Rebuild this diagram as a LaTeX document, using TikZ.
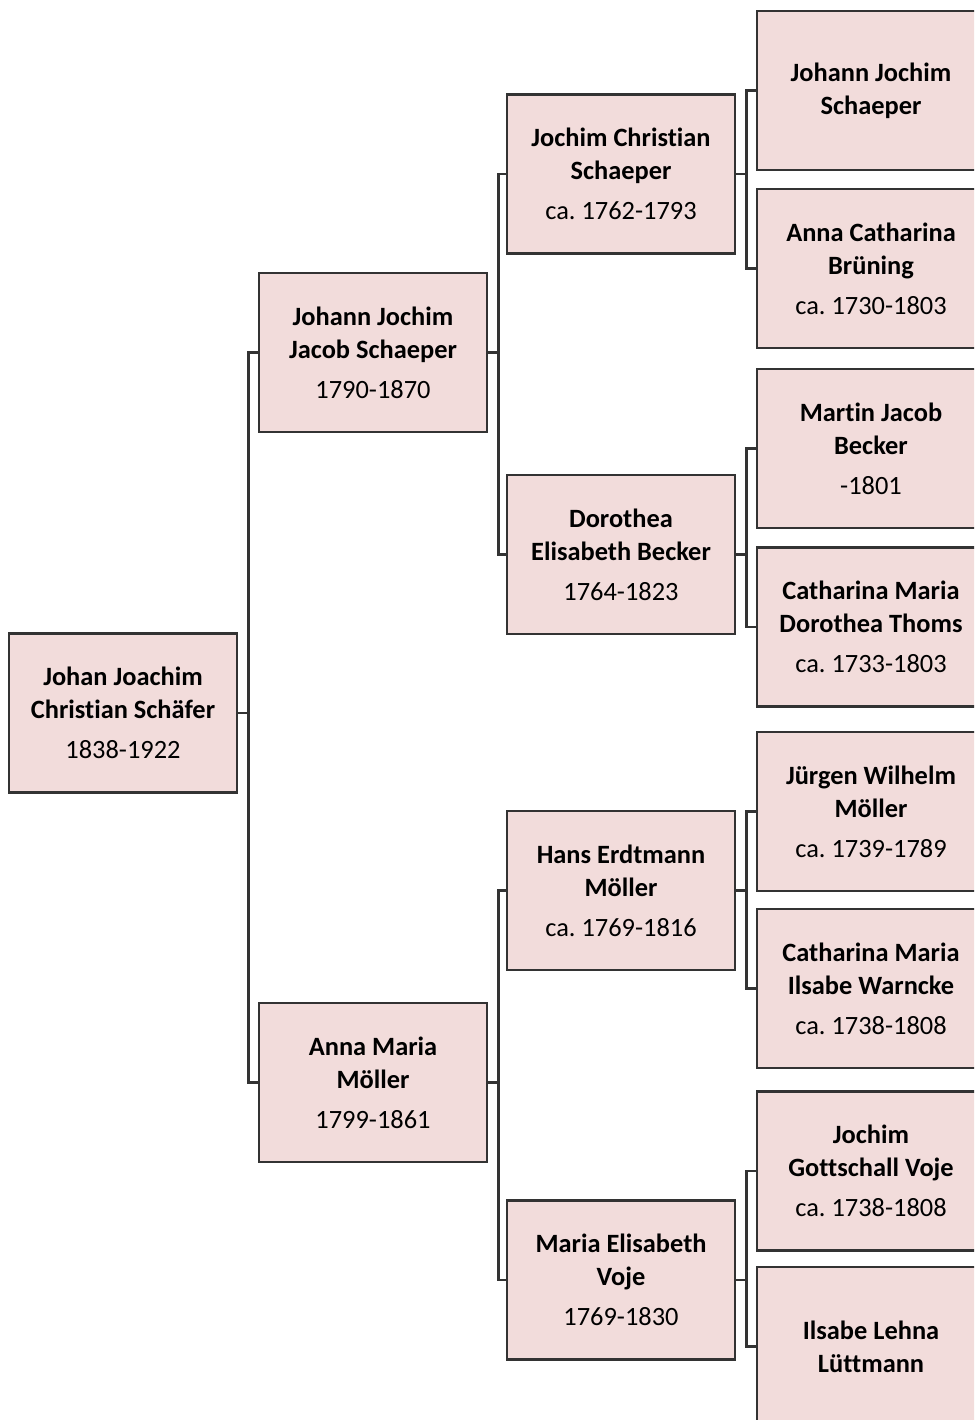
\documentclass[tikz,border=0pt]{standalone}
\usepackage{fontspec}
\setmainfont{Carlito}[Ligatures=NoCommon]
\usepackage{tikz}
\usepackage{xcolor}
\frenchspacing

\definecolor{boxfill}{HTML}{F2DCDB}
\definecolor{boxline}{HTML}{333333}

\tikzset{
  person/.style={draw=boxline, fill=boxfill, line width=2.6pt,
    minimum width=228pt, minimum height=159pt, inner sep=0pt,
    align=center, font=\fontsize{26.4}{33}\selectfont},
  link/.style={draw=boxline, line width=2.4pt}
}
\newcommand{\ancestorname}[3]{\textbf{#1}\\\textbf{#2}\\[7pt]#3}

\begin{document}
\begin{tikzpicture}[x=1pt,y=-1pt]
\useasboundingbox (0,0) rectangle (974,1420);
\clip (0,0) rectangle (974,1420);
% first generation
\node[person] (a1) at (123,713) {\ancestorname{Johan Joachim}{Christian Schäfer}{1838-1922}};
% parents
\node[person] (a2) at (373,352.5) {\ancestorname{Johann Jochim}{Jacob Schaeper}{1790-1870}};
\node[person] (a3) at (373,1082.5) {\ancestorname{Anna Maria}{Möller}{1799-1861}};
% grandparents
\node[person] (a4) at (621,174) {\ancestorname{Jochim Christian}{Schaeper}{ca. 1762-1793}};
\node[person] (a5) at (621,554.5) {\ancestorname{Dorothea}{Elisabeth Becker}{1764-1823}};
\node[person] (a6) at (621,890.5) {\ancestorname{Hans Erdtmann}{Möller}{ca. 1769-1816}};
\node[person] (a7) at (621,1280) {\ancestorname{Maria Elisabeth}{Voje}{1769-1830}};
% great-grandparents
\node[person] (a8) at (871,90.5) {\textbf{Johann Jochim}\\\textbf{Schaeper}};
\node[person] (a9) at (871,268.5) {\ancestorname{Anna Catharina}{Brüning}{ca. 1730-1803}};
\node[person] (a10) at (871,448.5) {\ancestorname{Martin Jacob}{Becker}{-1801}};
\node[person] (a11) at (871,627) {\ancestorname{Catharina Maria}{Dorothea Thoms}{ca. 1733-1803}};
\node[person] (a12) at (871,811.5) {\ancestorname{Jürgen Wilhelm}{Möller}{ca. 1739-1789}};
\node[person] (a13) at (871,988.5) {\ancestorname{Catharina Maria}{Ilsabe Warncke}{ca. 1738-1808}};
\node[person] (a14) at (871,1171) {\ancestorname{Jochim}{Gottschall Voje}{ca. 1738-1808}};
\node[person] (a15) at (871,1346.5) {\textbf{Ilsabe Lehna}\\\textbf{Lüttmann}};
% connectors
\foreach \p/\c in {1/2,1/3,2/4,2/5,3/6,3/7,4/8,4/9,5/10,5/11,6/12,6/13,7/14,7/15}
  \draw[link] (a\p.east) -- ++(10,0) |- (a\c.west);
\end{tikzpicture}
\end{document}
